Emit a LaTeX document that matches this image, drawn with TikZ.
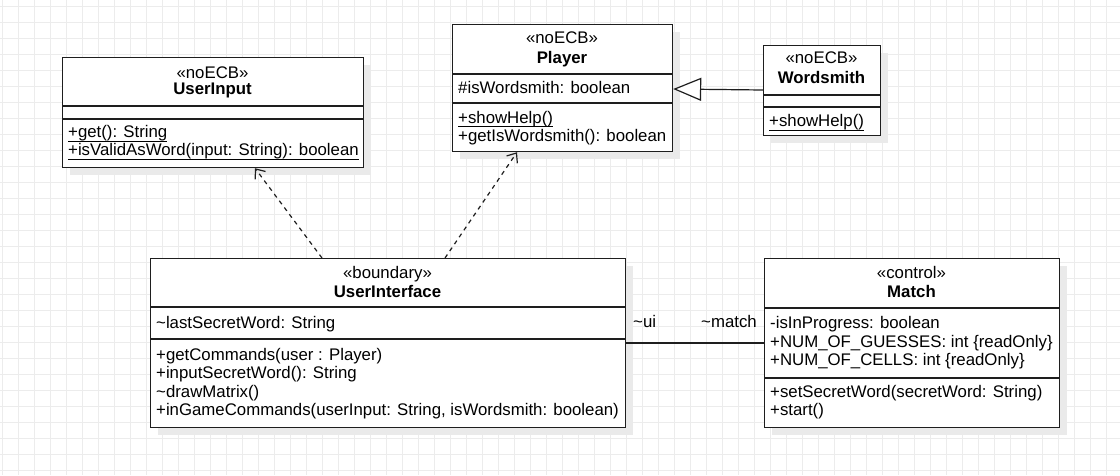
\documentclass[tikz,border=0pt]{standalone}
\usepackage{fontspec}
\setmainfont{Liberation Sans}
\usetikzlibrary{arrows.meta,calc}
\newcommand\myul[1]{\setbox0\hbox{#1}\rlap{\rule[-4.2pt]{\wd0}{1pt}}\box0}
\definecolor{gridc}{RGB}{236,236,236}
\definecolor{shadc}{RGB}{234,234,234}
\definecolor{linec}{RGB}{30,30,30}
\begin{document}
\begin{tikzpicture}[x=1pt,y=-1pt,
  box/.style={draw=linec,line width=1.2pt,fill=white,inner sep=0,anchor=north west},
  attr/.style={anchor=base west,inner sep=0,font=\fontsize{16.8}{20}\selectfont},
  ctext/.style={anchor=base,inner sep=0,font=\fontsize{16.8}{20}\selectfont},
  btext/.style={anchor=base,inner sep=0,font=\fontsize{16.8}{20}\selectfont\bfseries},
  divl/.style={draw=linec,line width=1.2pt},
  dep/.style={draw=linec,line width=1.2pt,dash pattern=on 4.2pt off 4.2pt,
    -{Straight Barb[length=8pt,width=13pt,line width=1.2pt]}},
  gen/.style={draw=linec,line width=1.2pt,-{Triangle[length=28pt,width=23pt,fill=white,line width=1.2pt]}},
  assoc/.style={draw=linec,line width=1.2pt},
  shad/.style={fill=shadc}
]
\useasboundingbox (0,0) rectangle (1120,475);
\fill[white] (0,0) rectangle (1120,475);
% grid
\foreach \i in {0,...,69}{\draw[gridc,line width=1pt] ({2.3+16*\i},0) -- ({2.3+16*\i},475);}
\foreach \j in {0,...,29}{\draw[gridc,line width=1pt] (0,{6.7+16*\j}) -- (1120,{6.7+16*\j});}

% shadows
\fill[shad] (70,65) rectangle (371,175);
\fill[shad] (460,32) rectangle (680,159);
\fill[shad] (771,53) rectangle (888,143);
\fill[shad] (158,266) rectangle (633,435);
\fill[shad] (772,266) rectangle (1067,435);

% boxes
\node[box,minimum width=301pt,minimum height=110pt] (uin) at (62,57) {};
\node[box,minimum width=220pt,minimum height=127pt] (pl) at (452,24) {};
\node[box,minimum width=117pt,minimum height=90pt] (ws) at (763,45) {};
\node[box,minimum width=475pt,minimum height=169pt] (ui) at (150,258) {};
\node[box,minimum width=295pt,minimum height=169pt] (ma) at (764,258) {};

% UserInput
\draw[divl] (uin.west |- 0,106) -- (uin.east |- 0,106);
\draw[divl] (uin.west |- 0,119) -- (uin.east |- 0,119);
\node[ctext] (uinS) at (212.5,78.3) {«noECB»};
\node[btext] (uinN) at (212.5,94.8) {UserInput};
\node[attr] (uinM1) at (68,137.5) {\myul{+get(): String}};
\node[attr] (uinM2) at (68,155.5) {\myul{+isValidAsWord(input: String): boolean}};

% Player
\draw[divl] (pl.west |- 0,74) -- (pl.east |- 0,74);
\draw[divl] (pl.west |- 0,103) -- (pl.east |- 0,103);
\node[ctext] (plS) at (562,43.3) {«noECB»};
\node[btext] (plN) at (562,63.3) {Player};
\node[attr] (plA1) at (458,93) {\#isWordsmith: boolean};
\node[attr] (plM1) at (458,123) {\myul{+showHelp()}};
\node[attr] (plM2) at (458,141.5) {+getIsWordsmith(): boolean};

% Wordsmith
\draw[divl] (ws.west |- 0,95) -- (ws.east |- 0,95);
\draw[divl] (ws.west |- 0,107) -- (ws.east |- 0,107);
\node[ctext] (wsS) at (821.5,63) {«noECB»};
\node[btext] (wsN) at (821.5,83) {Wordsmith};
\node[attr] (wsM1) at (769,126.5) {\myul{+showHelp()}};

% UserInterface
\draw[divl] (ui.west |- 0,307) -- (ui.east |- 0,307);
\draw[divl] (ui.west |- 0,339) -- (ui.east |- 0,339);
\node[ctext] (uiS) at (387.5,278) {«boundary»};
\node[btext] (uiN) at (387.5,297) {UserInterface};
\node[attr] (uiA1) at (156,328) {\textasciitilde lastSecretWord: String};
\node[attr] (uiM1) at (156,360) {+getCommands(user : Player)};
\node[attr] (uiM2) at (156,378.5) {+inputSecretWord(): String};
\node[attr] (uiM3) at (156,397) {\textasciitilde drawMatrix()};
\node[attr] (uiM4) at (156,415.5) {+inGameCommands(userInput: String, isWordsmith: boolean)};

% Match
\draw[divl] (ma.west |- 0,308) -- (ma.east |- 0,308);
\draw[divl] (ma.west |- 0,378) -- (ma.east |- 0,378);
\node[ctext] (maS) at (911.5,278) {«control»};
\node[btext] (maN) at (911.5,297) {Match};
\node[attr] (maA1) at (770,328.5) {-isInProgress: boolean};
\node[attr] (maA2) at (770,347) {+NUM\_OF\_GUESSES: int \{readOnly\}};
\node[attr] (maA3) at (770,365.5) {+NUM\_OF\_CELLS: int \{readOnly\}};
\node[attr] (maM1) at (770,397) {+setSecretWord(secretWord: String)};
\node[attr] (maM2) at (770,415.5) {+start()};

% connectors
\coordinate (d1s) at ($(ui.north west)+(172,0)$);
\coordinate (d1e) at ($(uin.south west)+(193,0)$);
\coordinate (d2s) at ($(ui.north west)+(295,0)$);
\coordinate (d2e) at ($(pl.south west)+(65,0)$);
\draw[dep] (d1s) -- (d1e);
\draw[dep] (d2s) -- (d2e);

\coordinate (gs) at (ws.west |- 0,90);
\coordinate (ge) at (pl.east |- 0,89);
\draw[gen] (gs) -- (ge);

\coordinate (as) at (ui.east |- 0,343);
\coordinate (ae) at (ma.west |- 0,343);
\draw[assoc] (as) -- (ae);
\node[attr] (lui) at (633,327) {\textasciitilde ui};
\node[attr,anchor=base east] (lma) at (757,327) {\textasciitilde match};
\end{tikzpicture}
\end{document}
